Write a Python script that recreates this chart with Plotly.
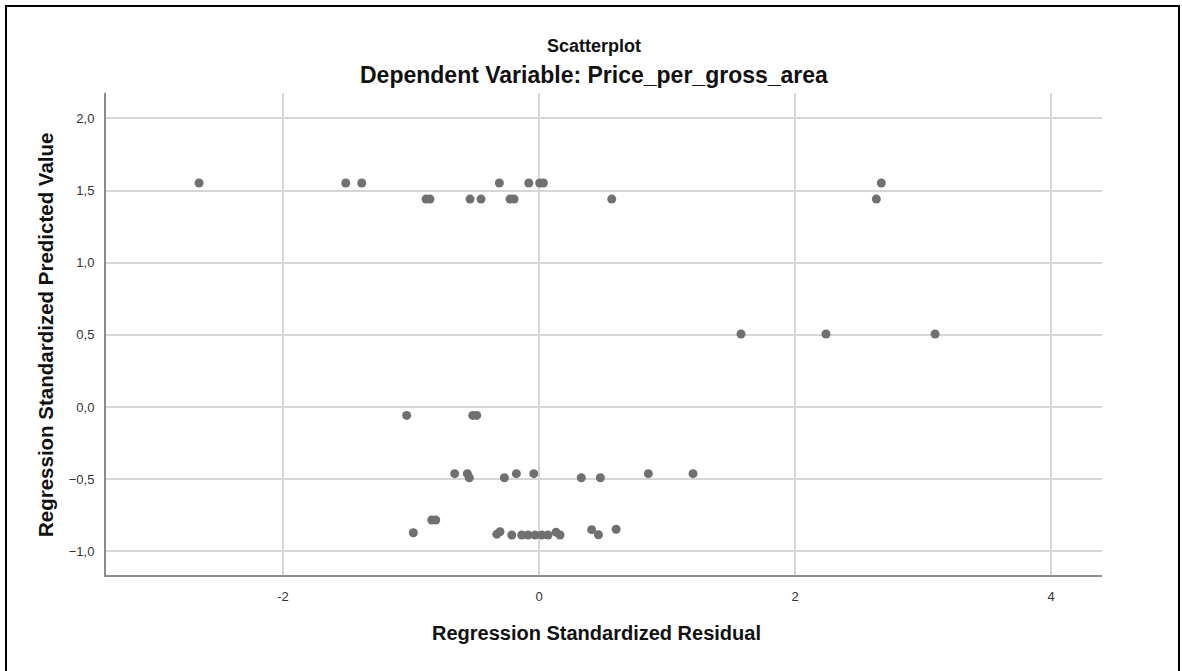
import plotly.graph_objects as go

# Regression standardized residual (x) and predicted value (y)
residual = [
    -2.656, -1.510, -1.385, -0.310, -0.080, 0.005, 0.034, 2.674,
    -0.883, -0.852, -0.539, -0.453, -0.227, -0.195, 0.568, 2.635,
    1.578, 2.242, 3.094,
    -1.034, -0.518, -0.487,
    -0.659, -0.560, -0.545, -0.271, -0.177, -0.041, 0.330, 0.479, 0.854, 1.203,
    -0.838, -0.807,
    -0.982, -0.330, -0.305, -0.213, -0.135, -0.086, -0.031, 0.021, 0.070, 0.164, 0.133,
    0.411, 0.464, 0.602,
]
predicted = [
    1.552, 1.552, 1.552, 1.552, 1.552, 1.552, 1.552, 1.552,
    1.441, 1.441, 1.441, 1.441, 1.441, 1.441, 1.441, 1.441,
    0.506, 0.506, 0.506,
    -0.058, -0.058, -0.058,
    -0.462, -0.462, -0.490, -0.490, -0.462, -0.462, -0.490, -0.490, -0.462, -0.462,
    -0.783, -0.783,
    -0.871, -0.881, -0.864, -0.887, -0.887, -0.887, -0.887, -0.887, -0.887, -0.887, -0.867,
    -0.850, -0.885, -0.847,
]

x_ticks = [-2, 0, 2, 4]
y_ticks = [-1.0, -0.5, 0.0, 0.5, 1.0, 1.5, 2.0]

title_main = "Scatterplot"
title_sub = "Dependent Variable: Price_per_gross_area"
x_title = "Regression Standardized Residual"
y_title = "Regression Standardized Predicted Value"

FONT = "Liberation Sans, Arial, sans-serif"

fig = go.Figure()
fig.add_trace(go.Scatter(
    x=residual, y=predicted, mode="markers",
    marker=dict(size=9, color="#707070", line=dict(width=0)),
    hoverinfo="x+y", showlegend=False,
))

fig.update_layout(
    width=1182, height=671,
    margin=dict(l=106, r=80, t=93, b=96),
    paper_bgcolor="white", plot_bgcolor="white",
    separators=",.",
    font=dict(family=FONT, color="#222222"),
    xaxis=dict(
        range=[-3.383, 4.398], tickvals=x_ticks, ticktext=[str(v) for v in x_ticks],
        showgrid=True, gridcolor="#d6d6d6", gridwidth=1.5,
        showline=True, linecolor="#8c8c8c", linewidth=2,
        zeroline=False, ticks="", ticklabelstandoff=8,
        tickfont=dict(size=13, color="#333333", family=FONT),
    ),
    yaxis=dict(
        range=[-1.164, 2.176], tickvals=y_ticks, tickformat=".1f",
        showgrid=True, gridcolor="#d6d6d6", gridwidth=1.5,
        showline=True, linecolor="#8c8c8c", linewidth=2,
        zeroline=False, ticks="", ticklabelstandoff=7,
        tickfont=dict(size=13, color="#333333", family=FONT),
    ),
    shapes=[dict(
        type="rect", xref="paper", yref="paper",
        x0=-0.1004, x1=1.0773, y0=-0.25, y1=1.1805,
        line=dict(color="black", width=2), fillcolor="rgba(0,0,0,0)",
    )],
    annotations=[
        dict(text="<b>" + title_main + "</b>", xref="paper", yref="paper",
             x=0.490, y=1.0975, xanchor="center", yanchor="middle", showarrow=False,
             font=dict(size=18, color="#111111", family=FONT)),
        dict(text="<b>" + title_sub + "</b>", xref="paper", yref="paper",
             x=0.490, y=1.0373, xanchor="center", yanchor="middle", showarrow=False,
             font=dict(size=23, color="#111111", family=FONT)),
        dict(text="<b>" + x_title + "</b>", xref="paper", yref="paper",
             x=0.492, y=-0.1203, xanchor="center", yanchor="middle", showarrow=False,
             font=dict(size=20, color="#111111", family=FONT)),
        dict(text="<b>" + y_title + "</b>", xref="paper", yref="paper",
             x=-0.0602, y=0.498, xanchor="center", yanchor="middle", showarrow=False,
             textangle=-90, font=dict(size=20.5, color="#111111", family=FONT)),
    ],
)

fig.write_html("out.html")
